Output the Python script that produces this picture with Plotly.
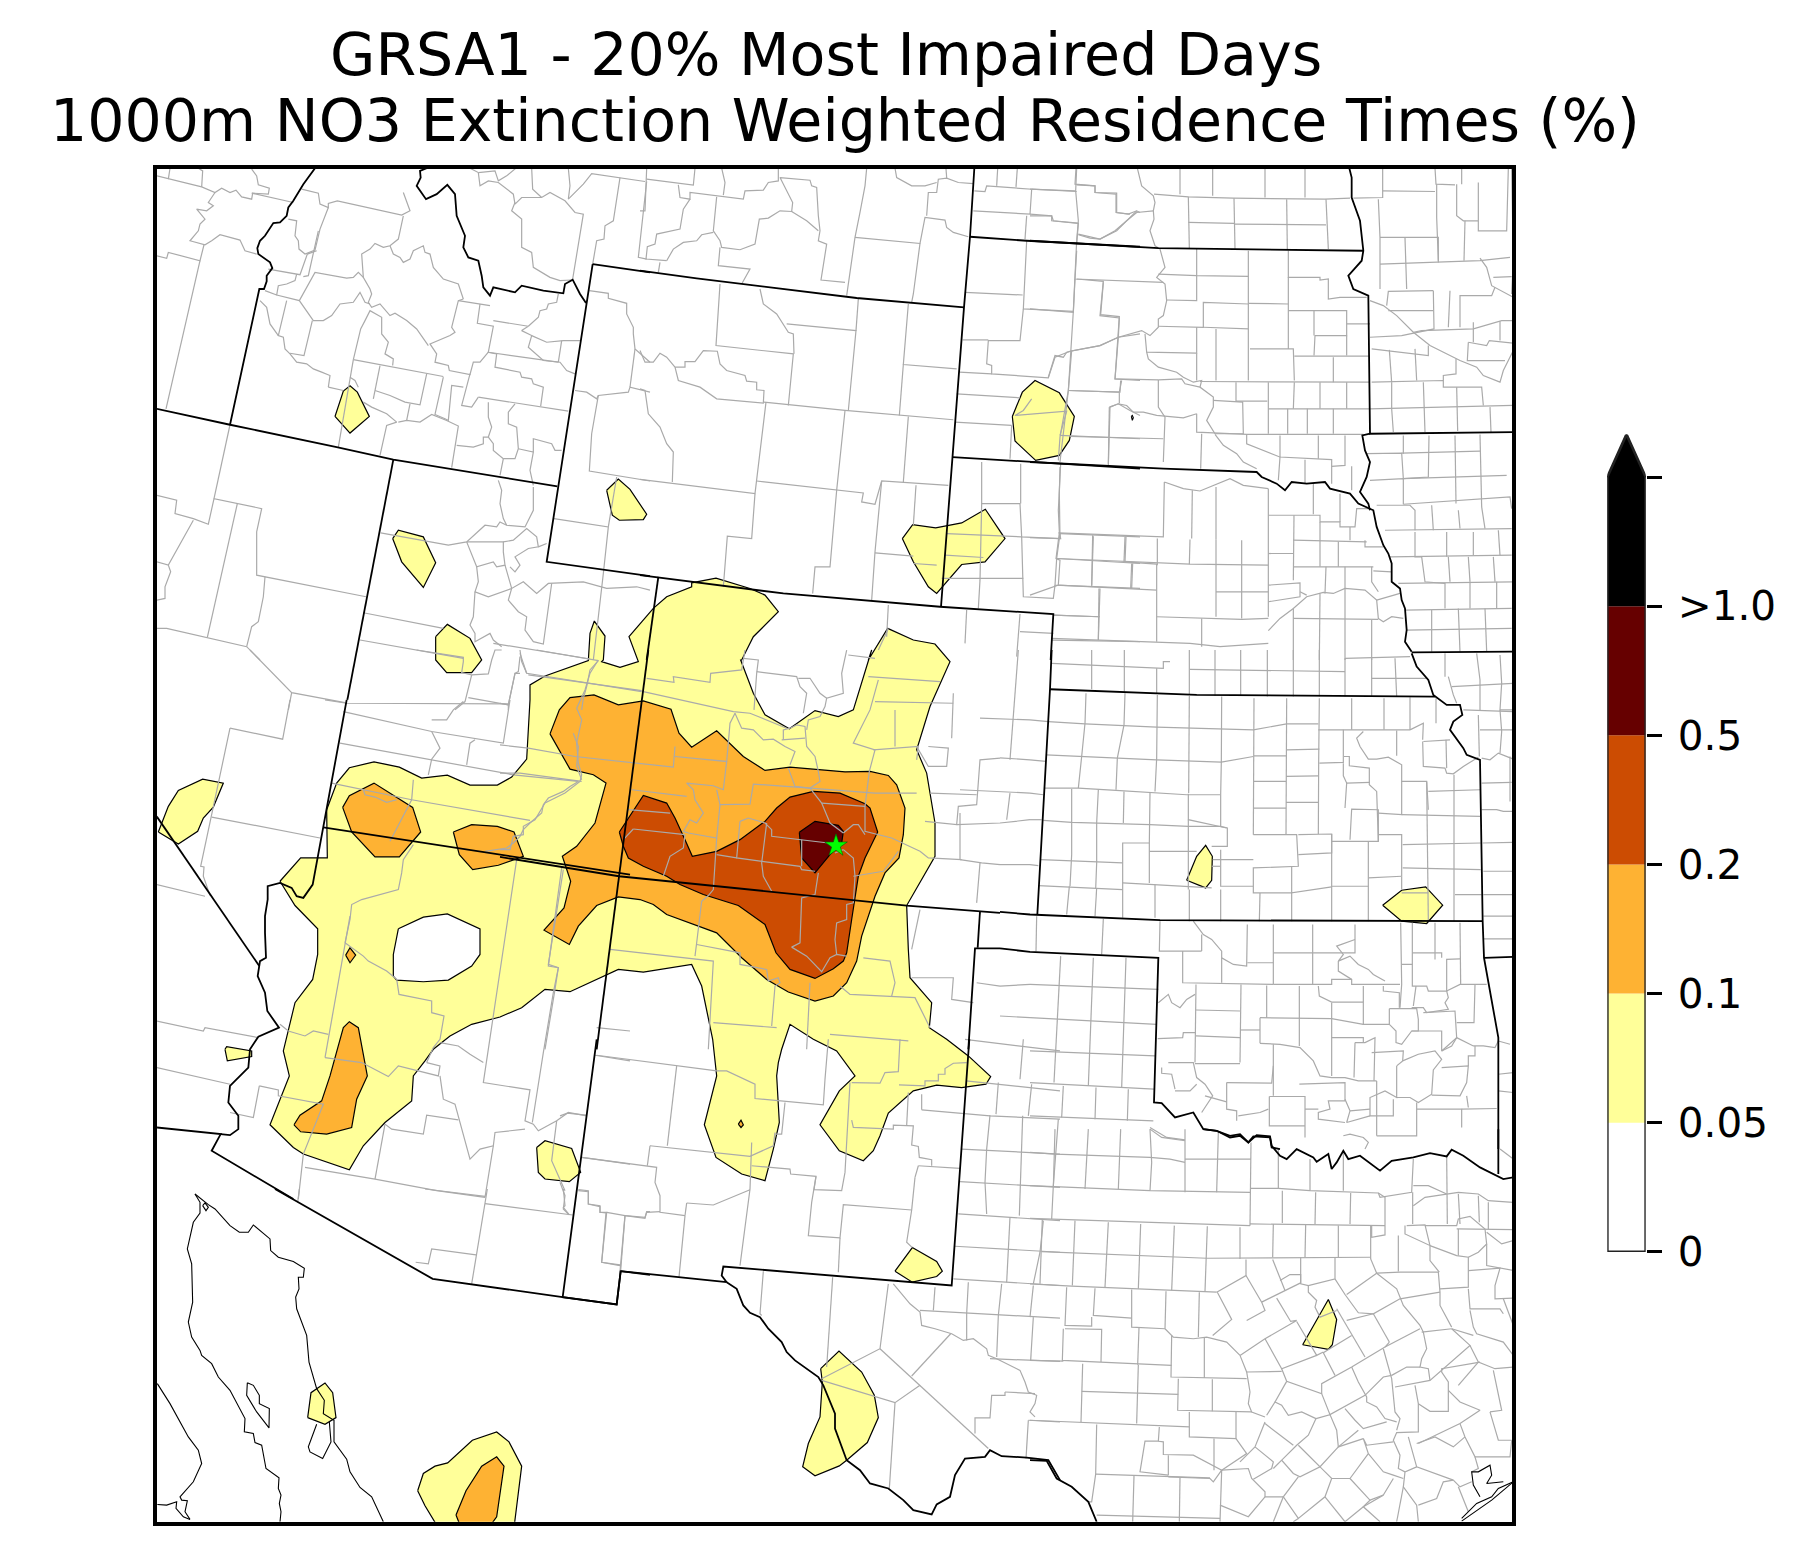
# GRSA1 residence time map.
# All map geometry is stored as flat x,y lists in the pixel grid of a 3x crop,
# one group per crop, and placed on the map axes with to_map().
import plotly.graph_objects as go

W, H = 1806, 1558
# the page comes out slightly squeezed vertically, these undo it
Y_SQUEEZE, Y_SHIFT = 0.9864, 1.2


def yfrac(px):
    return 1 - (px + Y_SHIFT) / Y_SQUEEZE / H


# map frame (map units)
map_left, map_right, map_top, map_bottom = 155.3, 1514, 166, 1525
spine = 3.5

# crop origins in map units
Z2 = (500, 650)
Z4 = (130, 700)
Z5 = (150, 160)
Z6 = (640, 160)
Z7 = (1030, 160)
Z8 = (1030, 650)
Z9 = (560, 1040)
Z10 = (150, 1190)
Z11 = (1030, 1130)
Z12 = (150, 650)

title_lines = ["GRSA1 - 20% Most Impaired Days", "1000m NO3 Extinction Weighted Residence Times (%)"]

cbar_labels = ["0", "0.05", "0.1", "0.2", "0.5", ">1.0", ""]
cbar_colors = ["#ffffff", "#ffff99", "#feb233", "#cc4c02", "#660000", "#000000"]
cbar_bands = [1, 1, 1, 1, 1, 1]

star_xy = (Z2, [1008, 588])

# contour polygons, one chain of (crop, points) per polygon
yellow_main = [
    (Z4, [450,545,512,475,592,475,590,330,620,250,658,204,732,186,808,202,875,235,952,226,1020,256,1102,256,1145,232,1190,178,1200,0]),
    (Z2, [90,105,135,78,265,32]),
    (Z5, [1320,1420,1333,1383,1365,1428,1360,1500]),
    (Z2, [305,35,360,52,415,35]),
    (Z5, [1437,1430]),
    (Z6, [40,1345,80,1310,155,1280,155,1268,228,1254,330,1285,375,1305,415,1355,340,1430,305,1500]),
    (Z2, [722,30,760,130,795,195,868,237,945,182,1015,200,1060,180,1075,130,1115,0]),
    (Z6, [685,1500,743,1405,820,1440,885,1452,925,1500]),
    (Z2, [1350,35,1290,170,1250,300,1280,370,1305,520,1305,620,1265,690,1220,768,1225,900,1230,985,1295,1060,1288,1135]),
    (Z9, [1160,0,1225,50,1292,112,1278,135,1205,145,1130,138,1060,155,985,222,960,290,940,335,910,365,838,335,780,257,838,155,885,110,830,35,760,0]),
    (Z2, [870,1125,845,1200]),
    (Z9, [655,70,650,110,658,250,640,330,615,425,545,405,468,355,433,257,470,110,458,0]),
    (Z2, [605,1010,575,945,430,968,355,960,210,1027,135,1020,65,1075,0,1103]),
    (Z4, [1025,975,960,1010,910,1050,885,1085,850,1130,845,1205,765,1270,700,1340,658,1412,520,1365,490,1345,420,1277,478,1130,460,1055,495,910,548,840,563,765,563,688,495,618,450,545]),
]
yellow_small = [
    [(Z4, [85,397,115,320,145,272,218,238,280,250,250,322,220,355,203,395,145,433])],
    [(Z4, [285,1050,290,1042,365,1055,365,1072,292,1085])],
    [(Z4, [1220,1345,1245,1325,1325,1348,1352,1420,1318,1448,1245,1440,1225,1420])],
    [(Z5, [555,768,580,692,600,676,622,695,658,768,600,818])],
    [(Z5, [728,1135,745,1110,820,1130,857,1208,820,1282,755,1205])],
    [(Z5, [1370,990,1405,956,1440,987,1490,1062,1480,1078,1408,1080,1387,1065])],
    [(Z5, [857,1430,892,1393,960,1435,995,1500]), (Z12, [995,30,965,68,890,68,857,30])],
    [(Z6, [1117,768,1147,695,1185,660,1258,697,1303,768,1288,840,1258,885,1187,900,1125,842])],
    [(Z6, [787,1135,818,1093,887,1103,965,1088,1036,1047,1095,1135,1035,1205,965,1213,890,1300,865,1280,820,1205])],
    [(Z8, [470,692,500,620,527,587,547,620,545,692,527,715])],
    [(Z8, [1058,767,1115,722,1187,712,1238,767,1190,822,1115,815])],
    [(Z9, [1005,697,1057,626,1130,668,1147,697,1130,713,1057,730])],
    [(Z9, [782,990,837,937,905,1000,943,1070,955,1137,922,1212,860,1265,838,1282,765,1312,728,1285,745,1215,780,1135,787,1030])],
    [(Z10, [473,687,483,612,525,583,548,612,558,687,525,707])],
    [(Z10, [803,907,820,855,855,833,893,823,967,755,1040,730,1077,760,1115,833,1093,1010,860,1010,825,952])],
    [(Z11, [818,648,895,512,920,572,907,648,895,662])],
]
white_holes = [
    [(Z4, [805,688,880,653,952,643,1050,688,1050,765,1025,800,955,842,880,847,800,842,790,830,790,765])],
]
orange_polys = [
    [(Z2, [150,252,178,180,210,143,282,135,355,165,430,153,513,178,537,250,575,292,650,243,730,320,795,362,870,352,950,358,1035,366,1110,365,1165,377,1190,405,1215,475,1210,555,1197,625,1155,670,1125,740,1085,860,1070,935,1040,1000,1000,1040,945,1055,865,1028,800,990,725,925,650,850,580,825,500,795,460,765,420,750,355,742,290,768,235,830,208,885,132,842,192,775,212,695,187,620,230,590,285,520,318,400,280,375,210,358])],
    [(Z4, [638,323,658,288,732,250,848,323,872,397,808,472,735,472,665,397])],
    [(Z4, [970,397,1025,375,1102,380,1152,397,1180,470,1105,497,1028,510,988,465])],
    [(Z4, [647,767,660,745,677,767,660,790])],
    [(Z4, [492,1277,510,1248,575,1205,600,1130,640,985,658,967,685,985,712,1130,680,1200,665,1285,590,1305,512,1298])],
    [(Z10, [918,980,948,907,995,833,1040,805,1062,833,1040,985,1022,1010,930,1010])],
    [(Z9, [535,255,543,243,550,257,543,265])],
]
dark_orange_polys = [
    [(Z2, [358,547,430,437,500,460,525,505,555,570,577,620,650,605,720,570,795,515,830,475,870,442,940,425,1020,430,1095,462,1110,475,1133,547,1095,625,1075,680,1055,810,1040,910,1030,935,1000,958,945,987,870,960,828,910,795,825,715,768,610,735,540,705,500,680,430,650,385,625,370,590])],
]
maroon_polys = [
    [(Z2, [898,548,945,515,1015,527,1030,545,1025,580,990,615,945,670,905,625])],
]

# black outlines: state borders
state_lines = [
    (Z5, [495,22,460,70,430,120,415,140,410,165,390,185,370,187,345,225,330,240,322,262,325,280,345,295,360,305,367,322,350,345,350,362,342,385,328,385,240,793]),
    (Z5, [830,22,810,30,812,50,800,75,828,115,860,100,892,72,915,100,920,165,945,225,940,260,955,290,985,300,995,345,1000,380,1020,405,1030,380,1095,395,1115,375,1180,390,1240,398,1245,370,1268,357,1290,400,1308,427]),
    (Z5, [20,745,240,793,560,860,730,898,1222,978]),
    (Z5, [730,898,592,1620]),
    (Z4, [650,0,580,383,548,555,520,595,500,590,485,565,450,550,413,560,413,600,405,650,405,700,408,775,390,785,383,830,405,880,412,935,447,985,385,1012,360,1050,355,1105,300,1160,295,1210,325,1250,325,1290,300,1308,272,1305]),
    (Z4, [580,383,1500,525]),
    (Z4, [80,350,388,800]),
    (Z4, [80,1285,272,1305,245,1355,490,1500]),
    (Z10, [375,0,848,270,1238,325,1400,347,1412,247,1500,258]),
    (Z9, [182,697,500,730,485,710,490,683,1175,740,1228,0]),
    (Z9, [500,730,530,750,550,800,570,822,600,835,625,870,665,910,680,940,705,965,775,1015,790,1040,825,1125,825,1170,860,1265,900,1295,930,1335,985,1350,1030,1385,1060,1415,1115,1428,1130,1398,1170,1375,1185,1310,1215,1260,1275,1255,1290,1235,1325,1253,1400,1257,1465,1265,1500,1325]),
    (Z11, [0,995,50,997,80,1050,125,1075,175,1120,200,1180]),
    (Z6, [55,1250,20,1500]),
    (Z2, [445,0,357,680,290,1200]),
    (Z9, [110,0,8,775,170,797,182,697]),
    (Z2, [0,622,357,680,1220,768,1500,790]),
    (Z8, [-90,787,0,795,390,812,1358,815]),
    (Z5, [1328,310,1190,1205,1500,1248]),
    (Z5, [1328,310,1500,335]),
    (Z6, [0,330,170,353,650,412,972,440]),
    (Z6, [1003,22,990,228,972,440,938,890,903,1340]),
    (Z6, [0,1245,430,1300,900,1340,1240,1362,1232,1500]),
    (Z8, [65,0,60,118,22,795]),
    (Z8, [60,118,500,135,1215,140]),
    (Z6, [990,228,1160,240,1500,258]),
    (Z7, [0,240,385,262,1000,270]),
    (Z6, [938,890,1500,925]),
    (Z7, [0,905,400,925,680,935,695,950,740,970,765,990,785,965,830,970,885,965,900,985,960,1000,985,1030,1030,1050,1040,1100,1060,1155,1075,1180,1085,1210,1085,1265,1110,1285,1115,1320,1125,1345,1130,1410,1125,1445,1145,1475]),
    (Z8, [1145,10,1160,50,1195,90,1210,135,1250,165,1290,165,1297,195,1270,215,1260,240,1300,295,1310,315,1350,330,1358,815,1362,925,1405,1165,1405,1500]),
    (Z8, [1362,925,1450,922]),
    (Z11, [1405,0,1405,135]),
    (Z7, [958,22,965,50,965,110,990,180,1000,270,995,300,955,345,970,385,1015,405,1020,820,1450,815]),
    (Z7, [1020,820,997,825,1005,870,1020,905,1010,950,990,995,1015,1030,1020,1050]),
    (Z7, [1145,1477,1450,1475]),
    (Z2, [1440,785,1433,895]),
    (Z2, [1500,897,1425,897,1405,1200]),
    (Z8, [-90,897,0,907,385,925,372,1360,395,1362,435,1405,490,1390,520,1440,560,1445,600,1465,630,1460,655,1480,670,1462,720,1465,725,1495,750,1500]),
    (Z11, [520,0,560,5,600,20,630,15,655,40,680,18,720,22,725,50,750,80,770,90,800,60,850,85,860,98,895,75,905,120,920,100,940,65,955,90,990,80,1010,95,1050,125,1085,95,1150,85,1200,72,1250,82,1265,62,1300,80,1350,115,1420,150,1450,145]),
]
# thin black outlines: Gulf of California and Texas coast
coast_lines = [
    (Z10, [135,15,150,40,150,72,130,100,112,180,125,225,128,340,115,400,125,445,150,485,155,500,185,525,205,565,240,605,285,690,283,730,310,735,315,762,335,770,348,840,387,868,385,900,393,920,388,945,393,970,390,1000]),
    (Z10, [135,15,175,47,195,60,240,110,268,130,295,130,310,108,360,150,362,185,385,205,430,218,463,238,460,265,445,265,447,300,437,325,440,360,470,440,477,520,500,600,523,635,520,675,552,695,552,760,590,812,600,850,630,897,665,925,700,1000]),
    (Z10, [292,582,310,590,328,620,328,645,358,660,357,718,320,670,290,620,292,582]),
    (Z10, [500,707,475,775,480,790,518,810,543,760,538,700]),
    (Z10, [158,50,165,42,175,55,168,65,158,50]),
    (Z10, [22,585,60,645,115,745,145,785,155,825,130,880,90,925,95,935,112,937,105,970,120,993]),
    (Z10, [22,948,50,950,80,940,78,960,100,985,120,993]),
    (Z11, [1295,1170,1340,1125,1385,1105,1405,1080,1450,1060]),
    (Z11, [1295,1178,1385,1115,1450,1060]),
    (Z11, [1350,1105,1330,1070,1325,1030,1345,1030,1380,1010,1385,1040,1370,1065,1420,1060]),
    (Z7, [304,768,307,765,310,772,307,780,304,768]),
]

# gray county lines, one list per crop
counties_z12 = [
    [300,0,425,128,585,158],
    [425,128,415,180],
    [800,0,940,22,940,35,935,68,965,75,945,155,915,180],
    [965,75,1015,72,1025,30,1035,0,1055,0],
    [1110,0,1115,35,1130,70,1475,125],
    [1110,20,1105,65,1095,70,1075,165,1075,180],
    [955,143,1075,165],
    [1160,0,1315,25,1345,32],
    [1345,32,1320,60,1310,110,1300,145,1295,180],
]
counties_z5 = [
    [20,45,155,78,195,95,215,82,240,95,258,88,275,108,305,115,308,97,355,100,358,82,325,72,320,45,305,25],
    [145,22,158,30,155,78],
    [60,22,55,55],
    [305,97,430,125],
    [455,85,505,97,510,130,535,140,535,128,562,120,755,163,780,150,760,95],
    [195,95,175,125,190,135,170,150,140,145,165,175,150,190,145,210,120,240,165,252,185,240,210,222,270,238,285,270,320,280],
    [20,285,50,293,55,275,150,300,162,252],
    [150,300,48,745],
    [355,325,450,342,472,280,500,270],
    [415,175,440,180,435,225,445,240,447,265,465,280,495,268,510,205,535,140],
    [505,210,475,345,460,348],
    [440,340,435,360,410,370,385,375,380,403,345,390],
    [380,403,448,420,490,480,520,480,545,465,570,430,610,425,630,395,645,425,660,430],
    [448,420,495,335,590,352,610,350,625,335,640,350,660,385,665,400,655,425,665,440,690,430,720,465,735,458,770,480,800,505,835,555],
    [640,350,635,280,660,265,675,248,700,260,720,255,745,235,760,165],
    [720,255,730,280,750,290,760,305,780,295,790,270,820,255,825,275,840,280,850,320,880,355,925,370,940,415],
    [940,415,925,420,905,500,915,515,900,525,840,550,860,580,855,605,895,615,898,630,960,642,970,605,990,605,1015,575],
    [925,420,1020,435],
    [990,430,982,488,1030,497,1015,575,1040,580,1035,620,1110,635,1115,650,1145,655,1150,670,1180,680,1172,737],
    [1030,480,1135,497,1115,510,1145,525,1135,560,1180,600,1230,605,1250,630,1275,640],
    [1135,497,1165,470,1170,450,1190,445,1195,430,1220,425,1225,400],
    [1145,525,1190,545,1240,540,1290,540],
    [1235,540,1225,605],
    [1015,575,1225,605],
    [985,710,1255,752],
    [960,640,935,735,965,740,985,710],
    [880,650,865,722,855,762,885,775,895,780,905,675,940,680],
    [610,597,880,648],
    [610,597,565,860],
    [690,615,670,715],
    [675,690,720,705,765,725,810,733,830,640],
    [780,730,770,780],
    [640,725,665,740,710,760,740,785,710,795,690,885],
    [745,785,770,780,810,785,845,762,890,780,925,797,905,922],
    [600,650,615,660,625,680],
    [535,680,580,690],
    [535,680,540,645,515,635,490,625,470,610,440,605,420,580,405,565,400,530,385,525,410,420],
    [385,525,360,490,350,440,330,420],
    [420,578,462,585,487,480],
    [610,597,632,505,645,480,660,450,695,470,695,520,715,545,705,580,730,595,728,615],
    [1015,725,1015,770,1025,800,1015,830,1000,830,1000,850,970,860,920,855],
    [1015,830,1030,850,1030,870,1060,895,1050,945],
    [1095,730,1075,755,1075,790,1100,800,1105,865,1095,895,1060,895],
    [1105,865,1150,875,1150,835,1205,850,1215,870,1235,870],
    [1150,875,1140,930,1150,975],
    [1045,960,1055,990,1050,1030,1060,1075,1070,1095,1125,1100,1150,1050,1150,980],
    [1070,1095,1050,1085,1040,1100,1005,1095,950,1145,895,1155,692,1118],
    [950,1145,1060,1145,1060,1175,1065,1215,1040,1220,1030,1205,980,1220,950,1145],
    [1060,1145,1090,1140,1130,1105,1160,1130,1165,1160,1135,1165,1095,1190,1110,1215,1095,1235,1080,1220],
    [1065,1215,1085,1285,1120,1265,1160,1300,1195,1270,1300,1265,1370,1285,1460,1280,1500,1290],
    [980,1220,985,1265,975,1295,1015,1310,1085,1285,1075,1320,1105,1355,1130,1370,1125,1410,1150,1445,1180,1452,1205,1270],
    [1165,1160,1190,1150],
    [975,1295,970,1370,960,1395,975,1420,975,1445,1020,1420,1030,1440,1055,1460],
    [1030,1450,1180,1475,1320,1497],
    [20,1005,80,1020,75,1060,130,1075,175,1092,192,1015,335,1045,320,1115,320,1245,648,1310],
    [192,1015,240,793],
    [262,1030,172,1432],
    [130,1080,55,1215,20,1205],
    [55,1215,62,1235,45,1280,45,1315,20,1320],
    [345,1250,340,1310,325,1385,305,1400,290,1460],
    [20,1405,50,1405,290,1460,330,1500],
    [640,1358,880,1405],
    [630,1440,940,1495],
    [1212,1075,1375,1100,1360,1240,1330,1500],
    [1375,1100,1400,950],
    [1318,390,1375,398,1375,413,1430,428,1430,460,1450,500,1450,520,1455,565,1500,605],
    [1275,690,1310,695,1340,715,1345,705,1435,695,1440,680,1500,695],
    [1345,705,1325,820,1318,932,1500,962],
    [1455,565,1440,680],
    [960,22,985,35,990,75,1015,60,1045,65,1090,100,1095,130,1115,110,1175,110,1200,95,1245,120,1275,155,1300,160,1268,355],
    [1095,125,1085,150,1115,175,1115,260,1145,275,1150,320,1200,350,1230,360,1265,358],
    [985,35,1035,30,1045,60,1070,45,1100,20],
    [1145,22,1148,85,1175,110],
    [1255,22,1260,75,1255,115],
    [1255,115,1300,70,1325,38,1485,62],
    [1410,50,1390,180,1365,195,1362,235,1340,240,1328,310],
    [1490,62,1480,150,1465,290,1490,295],
]
counties_z6 = [
    [20,22,15,150,0,150],
    [20,55,160,73,165,22],
    [115,72,120,110,150,115,150,95,310,115,315,90,370,88,385,65,415,60,415,22],
    [245,22,255,65,250,103],
    [150,115,130,145,120,205,50,220,45,250,22,258,18,295,80,300],
    [230,108,220,210,240,240,245,260,300,267,345,250,358,175,385,172,420,150,455,152,458,125,420,50,510,58,515,75,530,80,535,165,540,210,535,240,560,250,550,320,543,358,615,365],
    [455,152,500,180,535,210],
    [240,260,235,315,330,325,305,370],
    [80,300,100,265,130,245,170,240,185,222,220,215],
    [60,305,55,335],
    [680,22,675,75,660,155,645,230,620,405],
    [645,230,840,248,820,400,815,425],
    [840,248,855,170,915,178,920,200,940,215,985,228],
    [860,165,865,95,890,95,895,55,920,52,955,65,1000,68],
    [920,52,918,22],
    [765,22,770,50,815,75,855,75,890,65],
    [1003,90,1035,92,1040,75,1175,85,1170,160,1000,150],
    [1175,85,1310,92],
    [1073,22,1070,75],
    [1132,22,1128,78],
    [1310,22,1307,90,1315,180,1310,240],
    [1170,160,1235,165,1240,180,1315,187],
    [1160,165,1155,235],
    [1310,72,1365,75,1365,95,1430,97,1430,155,1465,160,1490,150,1500,155],
    [1315,220,1380,235,1430,210,1490,150],
    [240,370,228,555,460,580,445,735],
    [360,385,370,430,410,460,445,515,460,520,462,580],
    [440,490,648,510,625,750],
    [655,415,648,510],
    [805,430,790,612,950,625],
    [790,612,778,765],
    [0,570,15,605,40,605,60,578,80,590,105,620,135,620,135,603,165,603,190,570,232,572,240,610,260,630,315,645,320,662,350,665,350,688,372,690,370,728,275,720,230,715,180,680,115,660,105,620],
    [372,725,615,750,940,778],
    [378,725,360,885,350,962,345,1000,0,957],
    [615,750,590,990,570,1220,525,1220,518,1300],
    [805,768,790,965],
    [350,962,670,998,665,1025,705,1032,725,962,925,975],
    [345,1000,335,1135,262,1128,250,1280],
    [725,962,705,1175,695,1320],
    [828,975,820,1095],
    [705,1178,820,1188],
    [820,1210,890,1215],
    [0,685,15,690,25,760,60,800,80,850,100,875,97,965],
    [1160,240,1150,445,1300,452,1310,240],
    [1150,445,1140,540,1045,540,1040,610,1055,615,1055,640,1225,652,1245,590,1290,572,1380,555,1435,530,1500,520],
    [975,395,1148,403],
    [968,538,1045,538],
    [958,635,1055,640],
    [950,700,1140,712],
    [945,785,1115,795],
    [1175,715,1150,750,1125,765,1260,755,1280,752,1260,825],
    [1115,795,1110,895],
    [1300,452,1285,690,1260,830,1255,900],
    [1310,355,1390,362,1380,465,1438,472,1435,530,1425,655,1500,660],
    [1285,690,1438,695,1445,660],
    [1438,695,1438,728],
    [1408,740,1435,730,1470,750,1500,765],
    [1408,740,1405,910],
    [1260,825,1408,830,1500,835],
    [1025,905,1025,1030,1140,1030,1145,1130,1260,1135,1258,1000,1260,920],
    [1142,910,1142,1030],
    [1025,1030,1020,1260,1015,1345],
    [1145,1130,1150,1310,1240,1315,1245,1275],
    [920,1120,1145,1130],
    [915,1185,1030,1192],
    [905,1255,1150,1255],
    [1260,1120,1500,1130],
    [1250,1195,1500,1210],
    [1260,1120,1250,1195,1245,1275,1500,1285],
    [1358,1125,1355,1275],
    [1455,1130,1452,1205],
    [1478,1210,1475,1285],
    [1380,1285,1375,1440],
    [1240,1365,1380,1370],
    [1140,1415,1240,1420],
    [1140,1362,1130,1490],
    [980,1350,975,1450],
    [1235,1440,1500,1445],
    [745,1335,740,1430],
    [745,1405,715,1470],
]
counties_z2 = [
    [60,10,80,70],
    [0,160,25,165,45,70,60,70],
    [85,75,425,122],
    [440,85,522,97,520,80,630,97,632,70,725,60,735,0],
    [430,125,700,185,750,190,860,235],
    [295,30,270,70,255,120,230,175,245,210,230,280,235,340,245,375,240,395,195,430,165,445,135,460,105,510,70,530,70,555,40,560,30,600,0,600],
    [0,285,85,295,225,320,520,352,525,290],
    [525,320,680,335,690,220,705,190],
    [0,370,60,370,245,395],
    [560,400,640,408,670,420,680,335],
    [560,400,580,420,585,450,610,490,590,520,570,510,550,545,565,550,650,565,660,465,650,420],
    [395,420,560,440],
    [385,480,510,490],
    [400,538,555,555],
    [370,570,400,538],
    [555,555,550,595,510,620,490,680],
    [660,465,750,463,760,403,930,415,960,395,955,365,945,320,920,290,915,230,890,225,870,235],
    [865,355,885,410,930,415,965,460,990,520,1030,550],
    [965,460,1095,470,1095,545,1133,555,1175,565,1260,605],
    [1095,470,1108,365,1125,300,1060,280,1065,270,1110,180,1135,90],
    [930,415,1125,430,1250,430],
    [1120,300,1255,290,1250,330],
    [1185,180,1185,290],
    [1125,155,1360,160],
    [1105,80,1320,95],
    [705,190,725,235,760,240,790,270,820,268,855,290,885,305,870,345],
    [850,270,850,240,870,235],
    [915,265,845,270],
    [1040,0,1025,70,1030,130,980,145,975,170,960,200,925,210,920,240],
    [895,85,930,85,960,130,980,145],
    [770,65,890,80,900,110,920,130,910,190],
    [730,25,775,30,770,70,762,180],
    [1045,15,1125,25],
    [720,515,745,505,795,520,815,540,815,560,900,570,985,580],
    [720,515,710,625,900,650,905,660,945,665],
    [800,520,785,640,790,680,815,725],
    [650,615,710,625],
    [650,565,640,720,625,738,605,755,590,880,585,920],
    [905,570,905,650],
    [955,670,945,735,905,745,900,880,875,893,920,920,965,967,990,925,1010,915,1040,920],
    [1030,600,1060,625,1065,680,1060,760,1040,765,1040,810,1010,820,1005,870,1010,915],
    [1005,610,1030,600],
    [1030,550,1060,525,1075,525,1095,555],
    [1060,680,1090,675,1150,665,1195,605],
    [1260,605,1285,625,1385,630],
    [1360,130,1355,265],
    [1285,290,1345,295,1340,350,1285,350,1250,290],
    [1275,515,1370,525,1375,470,1430,465,1440,330,1500,325],
    [1430,435,1290,430],
    [1440,640,1430,760],
    [1380,630,1445,640,1500,645],
    [1380,490,1380,630],
    [1260,780,1235,900],
    [1235,985,1360,985,1355,1050,1420,1060],
    [1430,1000,1500,1010],
    [330,900,640,935,625,1200],
    [590,885,720,910,720,945,800,960,805,995,835,985,840,1000,825,1010,815,1130],
    [930,1000,920,1200],
    [1020,1010,1050,1035,1245,1045,1290,1135],
    [1090,925,1170,935,1185,1000,1175,1040],
    [990,1155,1225,1175],
    [640,1120,830,1135],
    [190,660,145,945,175,955,165,1020,135,1200],
]
counties_z4 = [
    [300,85,458,118,480,0],
    [300,85,212,500,222,502,220,530,240,588],
    [80,555,225,590],
    [245,352,570,415],
    [585,0,650,10,1135,12],
    [640,35,905,95,1120,130,1140,0],
    [905,95,930,145,905,178,895,225],
    [630,130,905,180,1150,225,1345,245],
    [905,60,950,60,970,30,1000,5],
    [1035,120,1020,130,1010,195],
    [1345,245,1320,260,1300,275,1255,295,1240,315,1235,340,1200,370,1180,390,1170,410,1150,430,1130,445,1065,455],
    [605,250,845,300,1200,362],
    [850,240,845,300,780,425],
    [700,270,705,285,735,292,770,308,800,300],
    [1330,100,1345,140,1340,200,1355,240],
    [850,435,820,480,815,520,805,570,695,600,665,615,660,660,645,730],
    [660,650,585,1075],
    [645,730,700,770,715,785,770,815,800,840,807,885,905,905,905,940,942,950,930,1020,910,1045,890,1090],
    [1160,480,1060,1150,1200,1172,1185,1265,1210,1275,1225,1295,1280,1265,1315,1240,1370,1250],
    [1295,505,1255,800,1285,805,1270,880,1240,1060,1207,1270],
    [1280,1265,1265,1385,1305,1475],
    [450,975,475,995,525,1010,550,995,595,1005],
    [80,965,220,995,225,985,385,1015],
    [80,1105,300,1155],
    [585,1075,695,1090,775,1132,805,1100,925,1130,930,1100,890,1090],
    [930,1030,985,1040,1020,1065,1060,1090],
    [930,1130,940,1200,975,1215,1020,1380,1050,1350,1090,1340,1095,1300,1185,1290],
    [388,1160,445,1172,445,1190,580,1215,520,1365,505,1500],
    [388,1160,370,1255,300,1240],
    [765,1275,785,1290,880,1305,890,1248,985,1262],
    [765,1275,735,1440],
    [525,1405,735,1440,920,1475,1065,1495],
    [1400,985,1500,995],
    [1395,1068,1500,1085],
    [1355,1375,1500,1395],
    [1090,1340,1065,1495],
]
counties_z9 = [
    [110,48,445,90,470,95,500,95,585,135,585,178,790,197,795,120,805,0],
    [350,80,322,320],
    [270,320,570,352,640,320,645,280],
    [270,320,262,380],
    [65,355,290,385,285,430,300,470,300,520,375,530],
    [55,452,85,455,85,495,120,503,120,520,140,520,125,670,180,680],
    [140,520,195,530,255,535,260,520,300,518],
    [195,530,180,697],
    [375,530,357,715],
    [380,492,460,498,570,452],
    [380,492,375,530],
    [575,310,570,450,540,680],
    [575,380,690,390,692,405,768,412,762,452,845,455,855,400,870,130],
    [768,412,755,490,745,590,840,597,850,497,1055,513],
    [840,597,835,700],
    [1055,513,1040,610,1057,626],
    [1065,415,1055,513],
    [1075,380,1200,388],
    [1075,380,1065,415],
    [1115,380,1115,362,1078,355,1075,322,1055,318,1060,260,1000,258,1000,270,880,265,875,243],
    [675,190,665,285,645,285],
    [875,130,960,132,975,100,1015,97,1020,0],
    [1017,137,1095,140,1095,125,1135,125,1135,105,1155,105,1155,88,1180,72,1220,70],
    [1040,260,1045,160],
    [1085,212,1085,165],
    [1085,212,1290,230,1500,240],
    [1215,0,1500,35],
    [1390,0,1380,120],
    [1218,125,1500,155],
    [1315,130,1308,225],
    [1415,135,1405,230],
    [1290,228,1280,330,1275,430,1280,525],
    [1388,230,1385,340,1378,530],
    [1495,240,1480,440,1475,540],
    [1205,330,1500,345],
    [1200,428,1500,445],
    [1195,525,1500,545],
    [1350,535,1340,730],
    [1450,545,1440,640,1420,735],
    [1185,622,1500,640],
    [1180,720,1500,740],
    [1225,730,1220,825,1220,905],
    [1125,745,1120,815],
    [1325,735,1315,830,1310,955],
    [1420,835,1412,965],
    [1080,815,1500,838],
    [1000,735,1030,770,1050,795,1080,820,1085,860,1125,870,1175,885,1210,905,1240,900,1280,930,1285,950,1310,960,1380,995,1395,1030,1405,1060,1430,1070,1425,1095,1410,1120,1425,1135],
    [1290,960,1500,968],
    [985,735,960,930,785,1020],
    [960,930,1285,1230],
    [785,1025,1005,1092,1080,1040],
    [1172,885,1055,1012],
    [1005,1092,988,1350],
    [818,715,800,985],
    [610,697,600,825,605,830],
    [1335,1060,1425,1065],
    [1335,1060,1335,1070,1295,1070,1290,1138,1245,1138,1245,1185],
    [1405,1145,1500,1150],
    [1405,1145,1398,1260],
    [0,230,22,222,78,228],
    [0,430,15,470,10,510,25,525],
]
counties_z10 = [
    [825,0,1005,22],
    [1005,44,1268,78],
    [1012,0,1005,44,965,285],
    [797,220,835,225,845,180,978,198],
    [448,0,443,40],
    [1240,0,1245,50,1240,55,1258,78],
    [1285,5,1315,8,1315,45,1350,50,1350,70,1368,72,1355,220,1410,228],
    [1425,80,1485,88,1490,68,1500,68],
    [1425,80,1412,245],
]
counties_z7 = [
    [138,22,135,70,195,75,195,95,258,100,258,155,300,160],
    [0,85,135,90],
    [0,165,65,165,65,180,145,188,140,250],
    [145,222,180,232,210,235,255,210,290,180,320,155,370,150],
    [322,22,335,75,370,105,375,125,370,150,372,175,360,210,375,255,390,265,405,320,380,350,405,370,410,420,400,465,385,475,385,500,360,525,335,510,265,530,210,555,130,570,110,575,100,590,75,585,55,650],
    [372,100,475,108,610,112,770,115,885,115,960,112],
    [450,22,450,100],
    [548,22,548,105],
    [705,22,705,110],
    [825,22,825,110],
    [1058,22,1058,110,970,112],
    [475,108,478,262],
    [612,112,615,265],
    [770,115,770,190,772,268],
    [888,115,895,265],
    [475,185,612,188],
    [612,190,888,192],
    [1045,115,1050,230,1050,385],
    [1058,90,1215,92],
    [1215,22,1218,70,1275,72],
    [1295,22,1295,70],
    [1220,70,1220,170,1225,300],
    [1280,70,1280,165,1300,180,1345,180,1345,210,1430,210,1435,22],
    [1345,65,1345,180],
    [1050,230,1225,230,1225,305],
    [1125,232,1130,385],
    [1050,310,1225,305,1350,300,1440,290],
    [1350,292,1370,320,1385,375,1395,380,1450,410],
    [1305,180,1302,300],
    [1390,350,1445,348],
    [1395,380,1385,405,1290,405,1290,500],
    [1210,390,1075,392,1070,435],
    [1210,390,1212,505,1115,525,1020,530],
    [1260,390,1255,500],
    [1020,420,1060,435,1100,465,1150,515,1200,555,1290,600,1340,620,1360,645,1410,665,1420,630,1450,570],
    [1075,450,1210,450],
    [1150,515,1175,510,1330,505,1415,480,1450,480],
    [1330,485,1330,545],
    [1410,482,1410,540],
    [1315,545,1370,555,1378,540,1450,548],
    [1315,545,1312,600,1425,600],
    [1195,555,1195,585,1025,565],
    [1155,565,1160,660],
    [1078,568,1085,665],
    [1025,665,1240,660,1240,680,1355,680,1360,735],
    [1278,595,1278,640,1240,645,1240,660],
    [1085,665,1085,745,1090,815],
    [1180,665,1185,815],
    [1280,680,1283,812],
    [1020,745,1450,735],
    [1380,740,1383,815],
    [1445,22,1450,300,1445,400],
    [140,270,135,355,400,365],
    [135,355,130,455,0,445],
    [385,340,500,345,655,347],
    [500,265,500,420,410,418],
    [655,270,655,430,520,425,520,500,385,497],
    [655,430,655,505,520,500],
    [500,500,500,578,350,575,345,520],
    [558,505,558,660],
    [500,578,500,660],
    [655,505,655,660],
    [775,270,775,350,870,350,870,358,895,355,895,415,930,410,1010,410],
    [775,430,655,428],
    [775,350,775,565],
    [775,450,950,450,950,525,855,525,852,585],
    [852,450,852,525],
    [950,490,1020,490],
    [950,525,950,585],
    [660,565,790,565,793,660],
    [793,587,1020,587],
    [910,590,910,665],
    [220,365,212,462,268,468,255,655,385,658],
    [115,690,270,695,272,660],
    [125,570,115,690,90,905],
    [385,658,385,740,405,770,400,905],
    [385,658,455,655,465,670,510,680,550,710,550,740,530,780,555,820],
    [350,575,355,595,385,620,440,635,460,650,490,665,515,660,510,680],
    [510,663,1020,665],
    [715,665,715,820],
    [618,665,618,722,712,722],
    [793,665,790,745],
    [870,665,870,745],
    [950,665,950,745],
    [550,720,638,725,640,820,555,820],
    [715,745,1020,745],
    [773,745,773,820],
    [832,745,832,820],
    [910,745,910,820],
    [500,760,500,815,650,822,1000,822],
    [240,740,265,730,290,735,310,755,340,755,380,765,460,772,500,760],
    [240,740,235,915],
    [120,828,400,835],
    [515,820,512,925],
    [555,822,580,855,620,880,640,905,680,925],
    [650,822,650,850,750,890,745,960],
    [750,825,750,890,905,898,905,970],
    [825,898,825,970],
    [865,825,865,895],
    [945,825,945,915,905,918],
    [965,918,965,990],
    [92,910,85,1050,88,1115,92,1135,0,1132],
    [403,965,460,985,510,992,600,955,640,975,715,985],
    [403,965,400,1130,85,1118],
    [487,990,485,1135],
    [558,980,558,1138],
    [715,985,715,1370],
    [88,1118,78,1195,90,1200,85,1275,0,1305],
    [190,1128,185,1280],
    [288,1130,285,1205,380,1212,380,1445],
    [382,1135,382,1215],
    [480,1138,478,1212],
    [558,1138,558,1370],
    [635,1140,635,1375],
    [80,1195,480,1212,715,1215],
    [305,1210,302,1285],
    [85,1275,380,1290],
    [207,1285,205,1440],
    [70,1365,205,1370],
    [65,1435,205,1440,380,1445,480,1450,570,1460,630,1455,715,1450],
    [380,1370,515,1375,635,1378,715,1375],
    [515,1375,515,1460],
    [558,1295,715,1295],
    [715,1065,870,1065,870,1085,930,1085,930,1100,975,1100,980,1045,1020,1045],
    [792,1065,790,1260],
    [715,1180,790,1180],
    [790,1140,1010,1145],
    [870,1085,870,1220],
    [960,1100,960,1140],
    [1005,1140,1005,1160,1060,1160],
    [925,1145,925,1220],
    [850,970,850,1062],
    [930,1000,930,1085],
    [790,1220,1030,1220],
    [888,1220,885,1300],
    [1025,1220,1025,1265,1045,1295],
    [945,1220,945,1290],
    [715,1275,810,1268,810,1310,715,1325],
    [810,1295,830,1305],
    [715,1412,750,1375,790,1345,830,1310,880,1297,910,1300,945,1285,1005,1290,1040,1320,1045,1375,1060,1385,1085,1370,1120,1375],
    [790,1345,790,1500],
    [870,1300,868,1500],
    [790,1375,1045,1378],
    [945,1290,945,1500],
    [1025,1380,1025,1500],
    [1040,1320,1110,1300],
    [1030,1232,1085,1235],
    [1040,1035,1140,1035,1155,1050,1155,1110],
    [1205,1035,1210,1110],
    [1285,1050,1290,1105],
    [1355,1040,1365,1105],
    [1020,960,1120,955,1120,1032],
    [1010,880,1115,878,1120,955,1195,950,1197,825],
    [1120,825,1120,880],
    [1115,878,1350,872],
    [1275,825,1278,1030],
    [1350,822,1355,1040],
    [1120,955,1430,945],
    [1120,1032,1440,1010,1445,1045],
    [1065,1110,1445,1105],
    [1155,1115,1155,1190,1175,1190,1185,1265,1245,1270,1245,1345],
    [1250,1115,1250,1190],
    [1330,1115,1330,1185],
    [1405,1110,1410,1185],
    [1080,1190,1445,1185],
    [1255,1190,1260,1265],
    [1315,1190,1320,1265],
    [1390,1190,1395,1265],
    [1105,1270,1450,1265],
    [1320,1265,1320,1345],
    [1400,1265,1400,1345],
    [1125,1350,1445,1345],
    [1205,1350,1205,1475],
    [1285,1345,1290,1475],
    [1365,1345,1370,1475],
    [1130,1410,1445,1405],
]
counties_z8 = [
    [-150,205,0,210],
    [-90,324,0,330],
    [-210,420,0,430],
    [-220,525,-90,520,0,510],
    [-90,645,0,645],
    [-90,1010,0,1005],
    [-90,1100,0,1105],
    [-35,0,-50,210,-60,330],
    [-60,430,-70,510],
    [65,40,400,55,400,35,420,35],
    [185,0,185,118],
    [283,0,283,125],
    [380,55,380,130],
    [478,0,478,135],
    [555,0,555,138],
    [632,0,632,138],
    [712,0,712,140],
    [790,0,790,140],
    [868,0,868,140],
    [945,25,945,140],
    [480,58,945,65],
    [945,25,1140,20],
    [1025,25,1025,140],
    [1095,25,1100,140],
    [1025,85,1190,85],
    [1255,80,1270,135,1280,160],
    [1245,10,1245,80],
    [1340,10,1350,90,1350,180],
    [1410,15,1415,100,1410,180,1450,180],
    [1265,110,1450,100],
    [1300,180,1450,185],
    [1350,240,1450,240],
    [1345,195,1348,320],
    [1410,180,1415,245,1410,310],
    [1355,325,1380,330,1405,310,1450,328],
    [1440,320,1440,455],
    [1355,400,1445,398],
    [1355,480,1400,480,1420,485,1450,485],
    [1358,580,1430,578,1450,578],
    [1360,665,1450,665],
    [1360,735,1450,735],
    [1360,800,1450,800],
    [1362,868,1450,868],
    [1405,1175,1440,1185],
    [168,130,165,220,155,320,145,415],
    [285,130,282,225,262,325,258,420],
    [382,135,380,325,375,425],
    [478,138,477,235,477,335,476,430],
    [575,140,575,240,574,335,572,435,572,530],
    [672,145,672,240,670,320,670,475,670,555],
    [770,145,770,220,768,300,768,380,768,555],
    [868,145,868,240,866,340,865,553],
    [965,145,965,240],
    [1062,145,1062,240],
    [1140,142,1140,240],
    [1218,145,1218,220],
    [55,215,165,222,380,232,575,238,670,240,770,222,865,222],
    [865,240,1140,240],
    [48,315,145,320,262,325,380,330,574,337,670,320],
    [45,415,145,415,258,422,375,428,470,435,570,435],
    [670,395,768,395],
    [768,380,865,378],
    [770,300,868,298],
    [672,318,768,318],
    [670,475,768,475],
    [768,458,865,458],
    [40,512,125,518,360,525,475,530,572,530,592,535,592,590,545,590],
    [125,418,125,615,120,710],
    [205,420,200,520,200,640,197,718],
    [282,425,280,520],
    [360,428,358,580,278,580,278,700],
    [475,432,475,510,590,535],
    [475,510,475,720],
    [358,605,500,605],
    [32,630,278,640],
    [25,708,278,720],
    [358,580,358,700],
    [278,700,475,710,545,715],
    [375,705,375,805],
    [478,720,478,815],
    [572,720,572,815],
    [118,710,110,795],
    [200,715,195,800],
    [278,700,278,805],
    [548,630,670,630],
    [572,600,572,710,670,710],
    [545,650,570,650],
    [670,555,800,555,805,650,670,655,670,730,785,730,785,815],
    [805,555,905,553,905,610,805,615],
    [905,553,905,815],
    [785,650,785,730,905,712],
    [690,730,688,815],
    [905,575,1015,575,1045,575,1045,480,965,478,960,570],
    [868,340,940,338,940,320],
    [940,240,940,320],
    [940,320,958,320,958,348,1018,355,1018,405,1040,425,1045,575],
    [940,340,940,378,950,400,945,475],
    [950,400,1020,398],
    [1000,245,980,265,990,290,1015,328,1040,328,1075,322,1115,345,1115,395,1190,395,1195,480],
    [1100,242,1100,318],
    [1140,240,1180,220,1178,270],
    [1178,275,1180,350,1245,355,1250,370,1270,372,1300,350,1345,322],
    [1248,270,1250,355],
    [1180,275,1260,270],
    [1115,395,1115,495,1045,490],
    [1190,395,1195,815],
    [1272,375,1272,815],
    [1195,425,1350,420],
    [1115,495,1350,500],
    [1045,555,1115,555,1115,680],
    [1118,585,1352,580],
    [1118,655,1352,660],
    [1015,575,1015,815],
    [1015,685,1115,680],
    [905,710,1015,710],
    [1115,680,1115,720],
    [1275,735,1355,735],
    [1115,730,1195,730],
    [0,210,55,215],
    [0,330,48,335],
    [0,430,40,435],
    [0,510,35,510],
    [0,645,25,648],
    [220,808,215,915],
    [20,800,18,905],
    [390,815,388,905,515,905],
    [490,815,520,855,545,870,575,905,575,925,610,945,650,950,652,825],
    [515,855,515,905],
    [458,905,458,1000,730,1005],
    [575,925,575,1000],
    [652,940,730,940,730,825],
    [848,825,848,1005],
    [730,910,975,910,975,825],
    [730,940,730,1005],
    [975,870,920,890,940,915,925,935,960,920,985,945,1015,960,1030,975,1065,995],
    [925,935,925,965,965,990,965,1005,1110,1005],
    [730,1005,905,1005,905,990,965,990],
    [1112,820,1115,1005,1110,1075],
    [1147,820,1147,1010,1190,1010,1195,1025,1250,1025,1250,930,1290,928],
    [1215,820,1215,930],
    [1290,820,1292,1005],
    [1147,910,1235,910,1235,925],
    [1115,945,1147,945],
    [1250,1025,1290,1005,1370,1005],
    [1250,1025,1255,1045,1245,1060,1255,1080,1190,1090,1180,1075,1145,1075],
    [1158,1010,1150,1070],
    [865,1010,868,1040,905,1058,1000,1058],
    [498,1005,495,1240],
    [633,1005,630,1240],
    [710,1008,710,1105],
    [808,1010,808,1190],
    [905,1060,905,1280],
    [1000,1010,1000,1125,1078,1125],
    [1060,1010,1060,1025,1108,1030,1108,1075],
    [1078,1078,1160,1078,1165,1110,1165,1145,1145,1145,1115,1185,1098,1180,1098,1145,1078,1125,1078,1078],
    [1180,1090,1275,1085,1280,1165,1235,1205,1235,1145,1145,1145],
    [1335,1005,1332,1120,1280,1120],
    [385,1060,415,1035,425,1060,450,1075,470,1050,495,1035],
    [498,1082,630,1085],
    [690,1105,905,1108,1000,1125],
    [690,1105,690,1182],
    [498,1160,630,1165],
    [690,1182,750,1185,810,1195,850,1235,870,1280,905,1285,945,1285,985,1295,1040,1295],
    [383,1168,458,1165,460,1150,498,1150],
    [630,1142,690,1142],
    [905,1165,1000,1165,1000,1180],
    [975,1180,1005,1180,1035,1165,1032,1295],
    [975,1180,972,1285],
    [1025,1210,1120,1205,1118,1235],
    [1118,1235,1165,1215,1215,1205,1235,1230,1210,1262,1205,1335,1165,1360,1140,1345,1100,1345],
    [1100,1250,1118,1235],
    [1100,1250,1100,1345,1065,1325,1020,1345,1020,1400,1090,1400,1090,1350],
    [1280,1165,1330,1190,1360,1190,1395,1195,1405,1175],
    [1235,1205,1265,1190,1280,1165],
    [1235,1255,1315,1250,1310,1300,1290,1340,1205,1338],
    [1335,1190,1335,1220,1315,1220,1315,1250],
    [395,1255,395,1272,425,1275,435,1320],
    [415,1240,490,1240,500,1285,525,1305,548,1340,515,1390],
    [495,1243,630,1243],
    [590,1300,725,1302,730,1250],
    [590,1300,590,1380,620,1385,620,1415],
    [730,1185,730,1340],
    [435,1325,480,1325,500,1305],
    [525,1340,590,1358],
    [718,1342,825,1342,825,1465],
    [718,1342,718,1430,825,1430],
    [808,1305,945,1300,945,1355,895,1355,900,1380,865,1390,865,1410,945,1420],
    [945,1350,960,1385,950,1420,1020,1400],
    [960,1385,1020,1380],
    [825,1380,865,1380],
    [625,1400,690,1390,715,1380],
    [1040,1295,1040,1460],
    [1160,1360,1160,1460,1040,1460],
    [1160,1380,1295,1380,1295,1435],
    [1310,1340,1315,1375],
    [1295,1380,1400,1378],
    [1405,1275,1450,1270],
    [1405,1325,1450,1330],
    [940,1460,960,1455,1000,1465,1015,1480,1005,1500],
    [0,1005,385,1020],
    [92,920,72,1300],
    [190,925,175,1310],
    [288,925,275,1315],
    [0,1105,380,1125],
    [0,1205,375,1220],
    [0,1300,372,1320],
    [100,1310,95,1405],
    [198,1315,195,1410],
    [295,1320,292,1415],
    [0,1400,370,1415],
    [360,1435,410,1465,465,1472],
]
counties_z11 = [
    [75,0,70,175],
    [175,0,165,180],
    [272,0,265,180],
    [360,0,365,100,360,185],
    [0,70,75,75,360,85,420,90,465,100],
    [360,0,395,25,465,35],
    [465,0,465,190],
    [565,10,560,190],
    [663,40,660,290],
    [465,90,663,90],
    [0,170,360,185,660,190],
    [745,60,745,178,660,178],
    [745,178,840,185,1045,192,1050,205,1145,190,1150,90],
    [840,90,840,185],
    [940,65,940,185],
    [757,185,757,282],
    [857,190,855,285],
    [962,192,960,285],
    [1045,192,1065,205,1065,318,1025,325,1025,290],
    [660,285,1065,290],
    [0,268,660,290],
    [37,270,30,465],
    [135,275,127,470],
    [235,280,225,475],
    [332,285,325,480],
    [433,290,425,485],
    [532,292,525,487],
    [630,295,630,390],
    [730,285,728,385],
    [827,288,825,385],
    [925,290,925,385],
    [1022,290,1022,390],
    [35,368,530,388,1022,385],
    [0,465,125,472,560,490],
    [648,392,648,440,560,490],
    [648,440,695,520,705,545,650,575],
    [562,490,605,572,548,620],
    [10,470,0,565],
    [110,475,105,590,185,592,185,565],
    [195,478,190,560,305,568],
    [305,482,305,595,405,600],
    [408,487,405,600],
    [508,490,505,625],
    [728,392,748,445,765,485],
    [750,455,780,437,812,437,812,465],
    [812,385,812,465,835,470,915,450,945,497,985,552,1030,555,1110,510,1230,490],
    [915,385,915,450],
    [1040,433,1022,390],
    [1040,433,1100,480,1120,530,1170,590,1180,610,1190,660,1175,690,1170,715,1195,720,1200,755],
    [1040,433,950,497],
    [1040,433,1110,430,1225,430,1230,490,1230,530,1265,595],
    [1030,555,1078,640],
    [695,520,812,462],
    [740,508,782,578,800,575,705,630,630,680],
    [800,578,860,680,880,670],
    [835,470,835,490,860,515,855,535,870,565,920,545],
    [920,540,1005,685],
    [950,575,1030,555],
    [965,620,880,672,915,740],
    [860,680,755,720,705,630],
    [755,720,770,758,875,795,900,858,1005,800,1060,745,1085,740],
    [1065,655,965,715,875,765,875,795],
    [1065,655,1170,600],
    [1078,640,1065,655],
    [965,715,985,760,1010,805,1010,820,1040,835,1065,870,1100,880],
    [1060,660,1085,750,1095,850,1110,870,1100,905],
    [1085,740,1130,715,1170,715],
    [1095,775,1200,755,1320,650,1265,600],
    [1155,770,1165,825,1165,910,1100,912,1090,935,1110,980,1105,1020,1125,1030],
    [1165,825,1200,848,1255,848,1255,760,1235,730,1235,720,1350,700],
    [1320,650,1345,700,1395,720,1450,715],
    [1255,785,1290,820,1350,845,1290,885,1165,945],
    [1285,770,1345,700],
    [1390,725,1415,845,1380,850],
    [1380,850,1405,935,1445,935],
    [1290,885,1305,925,1335,985,1440,985,1445,935],
    [1135,925,1160,1015,1270,1055],
    [1160,945,1215,925,1270,955,1305,925],
    [1160,1015,1125,1030,1120,1075,1160,1130,1165,1180],
    [1270,1055,1290,1075,1325,1060],
    [1270,1055,1240,1060,1220,1110,1165,1130],
    [1335,985,1345,1020,1325,1030],
    [1285,1075,1315,1150],
    [650,730,755,728],
    [630,680,650,730,660,790,655,825,665,850,705,865],
    [405,600,430,625,490,630,530,625,590,640,630,680],
    [425,620,423,745,650,750],
    [523,625,523,748],
    [327,597,323,708],
    [105,600,215,602,213,700],
    [100,600,97,695,425,710],
    [158,705,153,880],
    [0,695,100,697],
    [325,708,320,885],
    [155,788,445,797],
    [445,750,443,845,665,850],
    [547,752,547,848],
    [478,850,478,925,618,930,618,850],
    [0,875,155,882,478,895],
    [200,888,197,1037,185,1120,175,1120],
    [388,895,385,938,345,938,330,1030,415,1040],
    [385,938,400,940,400,978,490,980,575,1025,550,1060,540,1050,415,1045],
    [415,980,415,1040],
    [552,930,552,1025],
    [197,1037,540,1048],
    [312,1042,308,1180],
    [450,1048,448,1180],
    [200,1160,570,1170],
    [575,1025,570,1180],
    [575,1025,655,1020,665,1050,705,1090,705,1105,760,1105],
    [618,930,650,975,575,1025],
    [675,955,730,1000,725,1020,670,1052],
    [675,955,630,1000],
    [705,880,675,955],
    [710,860,735,820,755,830,775,860,815,850,858,870],
    [770,758,735,820],
    [858,870,900,858,920,905,925,955,1000,930],
    [858,870,835,920,800,950,755,995,790,1035,810,1045,870,1015,805,950],
    [705,885,790,950],
    [925,955,870,1015,905,1050,960,1050,1015,975,1000,930,1010,950,1060,945,1090,940],
    [945,840,975,875,1000,900,1070,880],
    [985,905,925,955],
    [960,1050,1020,1115,1000,1135,945,1180],
    [905,1050,885,1105,805,1170,760,1105,805,1045],
    [885,1105,945,1180],
    [1015,975,1060,1030,1090,1040,1120,1050],
    [1090,1050,1060,1100,1020,1115],
    [1060,1100,1000,1135,1050,1180],
    [1120,1075,1100,1180],
    [705,1105,655,1165,570,1130],
    [760,1105,730,1180],
    [805,1170,790,1180],
    [755,995,730,1020],
    [1105,320,1105,428],
    [1125,290,1125,315,1200,350,1200,395,1228,430],
    [1200,350,1280,380,1315,385,1315,475,1230,480],
    [1130,290,1185,288,1200,350],
    [1185,290,1280,290,1285,270,1320,262,1365,300,1370,345,1345,370,1315,385],
    [1285,300,1285,380],
    [1280,300,1450,302],
    [1370,310,1415,345,1450,335],
    [1150,230,1185,205,1285,190,1345,195,1375,215,1450,220],
    [1150,170,1195,170,1250,195],
    [1250,80,1252,285],
    [1285,195,1290,285],
    [1345,200,1348,280],
    [1375,220,1375,300],
    [1148,190,1148,285],
    [1315,425,1410,418,1395,470,1395,510,1450,508],
    [1370,345,1370,410,1450,425],
    [1315,480,1320,540,1410,540,1420,555],
    [1320,545,1330,595,1340,615,1420,640,1450,680],
    [1265,600,1330,620],
    [1420,510,1450,590],
    [1410,60,1450,90],
    [1175,610,1265,600],
]
county_groups = [(Z12, counties_z12), (Z5, counties_z5), (Z6, counties_z6), (Z2, counties_z2), (Z4, counties_z4),
                 (Z9, counties_z9), (Z10, counties_z10), (Z7, counties_z7), (Z8, counties_z8), (Z11, counties_z11)]


def to_map(tile, flat):
    xs = [tile[0] + v / 3 for v in flat[0::2]]
    ys = [tile[1] + v / 3 for v in flat[1::2]]
    return xs, ys


def chain(parts):
    xs, ys = [], []
    for tile, flat in parts:
        a, b = to_map(tile, flat)
        xs += a
        ys += b
    return xs + xs[:1], ys + ys[:1]


fig = go.Figure()


def add_polys(polys, color):
    for parts in polys:
        xs, ys = chain(parts)
        fig.add_trace(go.Scatter(x=xs, y=ys, mode="lines", fill="toself", fillcolor=color,
                                 line=dict(color="black", width=1.2), hoverinfo="skip", showlegend=False))


add_polys([yellow_main] + yellow_small, cbar_colors[1])
add_polys(white_holes, cbar_colors[0])
add_polys(orange_polys, cbar_colors[2])
add_polys(dark_orange_polys, cbar_colors[3])
add_polys(maroon_polys, cbar_colors[4])

# county lines go in one trace, broken with None
cx, cy = [], []
for tile, group in county_groups:
    for flat in group:
        a, b = to_map(tile, flat)
        cx += a + [None]
        cy += b + [None]
fig.add_trace(go.Scatter(x=cx, y=cy, mode="lines", line=dict(color="#aaaaaa", width=1.2),
                         hoverinfo="skip", showlegend=False))

for lines, lw in [(coast_lines, 1.1), (state_lines, 1.8)]:
    sx, sy = [], []
    for tile, flat in lines:
        a, b = to_map(tile, flat)
        sx += a + [None]
        sy += b + [None]
    fig.add_trace(go.Scatter(x=sx, y=sy, mode="lines", line=dict(color="black", width=lw),
                             hoverinfo="skip", showlegend=False))

sa, sb = to_map(*star_xy)
fig.add_trace(go.Scatter(x=sa, y=sb, mode="markers",
                         marker=dict(symbol="star", size=17, color="#00ff00", line=dict(color="#006000", width=0.6)),
                         hoverinfo="skip", showlegend=False))

# colour bar
fig.add_trace(go.Bar(x=[0] * len(cbar_bands), y=cbar_bands, marker=dict(color=cbar_colors, line=dict(width=0)),
                     width=1, xaxis="x2", yaxis="y2", hoverinfo="skip", showlegend=False))
fig.update_layout(barmode="stack")
fig.add_trace(go.Scatter(x=[-0.5, 0, 0.5, -0.5], y=[6, 6.33, 6, 6], mode="lines", fill="toself", fillcolor="black",
                         line=dict(color="black", width=1), xaxis="x2", yaxis="y2", hoverinfo="skip", showlegend=False))
fig.add_trace(go.Scatter(x=[-0.5, -0.5, 0, 0.5, 0.5, -0.5], y=[0, 6, 6.33, 6, 0, 0], mode="lines",
                         line=dict(color="#222222", width=2.7), cliponaxis=False, xaxis="x2", yaxis="y2",
                         hoverinfo="skip", showlegend=False))

inner = spine / 2
fig.update_layout(
    width=W, height=H,
    margin=dict(l=0, r=0, t=0, b=0),
    paper_bgcolor="white", plot_bgcolor="white",
    font=dict(family="DejaVu Sans", color="black"),
    xaxis=dict(domain=[(map_left + inner) / W, (map_right - inner) / W], range=[map_left + inner, map_right - inner],
               showgrid=False, zeroline=False, showticklabels=False, ticks="", showline=True, mirror=True,
               linecolor="black", linewidth=spine),
    yaxis=dict(domain=[yfrac(map_bottom - inner), yfrac(map_top + inner)], range=[map_bottom - inner, map_top + inner],
               showgrid=False, zeroline=False, showticklabels=False, ticks="", showline=True, mirror=True,
               linecolor="black", linewidth=spine),
    xaxis2=dict(domain=[1607.3 / W, 1645.7 / W], range=[-0.5, 0.5], anchor="y2", visible=False),
    yaxis2=dict(domain=[yfrac(1253), yfrac(434)], range=[0, 6.33], anchor="x2", side="right", showgrid=False,
                zeroline=False, showline=False, ticks="outside", ticklen=15, tickwidth=2.7, tickcolor="black",
                tickmode="array", tickvals=list(range(len(cbar_labels))), ticktext=cbar_labels,
                tickfont=dict(family="DejaVu Sans", size=40.5, color="black"), ticklabelstandoff=8),
    annotations=[
        dict(text=title_lines[0], x=826 / W, y=yfrac(90), xref="paper", yref="paper", xanchor="center", yanchor="bottom",
             showarrow=False, font=dict(family="DejaVu Sans", size=58.6, color="black")),
        dict(text=title_lines[1], x=845 / W, y=yfrac(156), xref="paper", yref="paper", xanchor="center", yanchor="bottom",
             showarrow=False, font=dict(family="DejaVu Sans", size=58.6, color="black")),
    ],
)

fig.write_html("out.html", config=dict(displayModeBar=False), post_script="document.body.style.margin='0';")
